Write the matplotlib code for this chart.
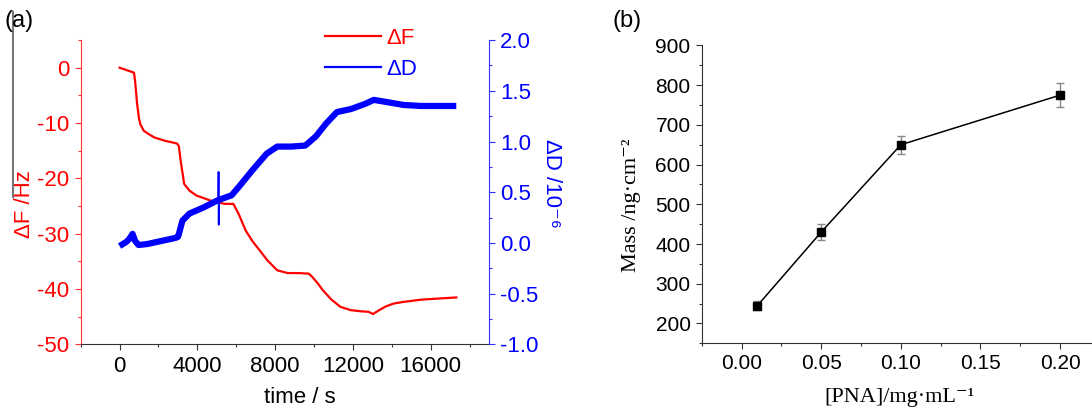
import matplotlib
matplotlib.use("Agg")
from matplotlib import pyplot as plt
from matplotlib.ticker import MultipleLocator
from matplotlib.lines import Line2D

plt.rcParams['font.family'] = ['Liberation Sans', 'DejaVu Sans']
plt.rcParams['axes.unicode_minus'] = False

# (a) QCM-D trace
t_f = [0, 740, 800, 900, 1000, 1065, 1246, 1500, 1788, 2330, 2960, 3050, 3142, 3322,
       3593, 3954, 4677, 5400, 5850, 6121, 6483, 6844, 7206, 7600, 8108, 8650, 9200,
       9733, 9913, 10200, 10455, 10900, 11358, 11900, 12400, 12802, 13037, 13300,
       13705, 14100, 14608, 15511, 16400, 17317]
df = [0, -0.9, -2.5, -6.5, -9.2, -10.2, -11.4, -12.0, -12.6, -13.2, -13.7, -14.2,
      -16.8, -21.0, -22.2, -23.1, -24.0, -24.6, -24.6, -26.4, -29.4, -31.4, -33.0,
      -34.8, -36.6, -37.1, -37.1, -37.2, -37.8, -39.0, -40.2, -41.9, -43.2, -43.8,
      -44.0, -44.1, -44.5, -43.9, -43.1, -42.6, -42.3, -41.9, -41.7, -41.5]

t_d = [0, 343, 500, 668, 800, 975, 1426, 2149, 2871, 3000, 3052, 3232, 3593, 4316,
       5038, 5760, 6121, 6844, 7566, 8108, 8830, 9552, 10094, 10636, 11177, 11900,
       12622, 13074, 13705, 14608, 15500, 16400, 17317]
dd = [-0.03, 0.01, 0.04, 0.09, 0.02, -0.02, -0.01, 0.02, 0.05, 0.06, 0.09, 0.22,
      0.29, 0.35, 0.42, 0.47, 0.55, 0.72, 0.88, 0.95, 0.95, 0.96, 1.05, 1.18, 1.29,
      1.32, 1.37, 1.41, 1.39, 1.36, 1.35, 1.35, 1.35]
spike_t = [5080, 5090, 5100, 5110]
spike_d = [0.42, 0.70, 0.18, 0.42]

# (b) adsorbed mass vs concentration
conc = [0.01, 0.05, 0.10, 0.20]
mass = [245, 430, 650, 775]
mass_err = [12, 20, 23, 30]

red = '#ff0000'
blue = '#0000ff'

fig = plt.figure(figsize=(10.92, 4.15), dpi=100)

# ---- panel (a)
ax1 = fig.add_axes([0.0739, 0.1699, 0.3739, 0.7337])
ax2 = ax1.twinx()

ax1.plot(t_f, df, color=red, lw=1.6, label='ΔF')
ax2.plot(t_d, dd, color=blue, lw=4.5, solid_capstyle='butt')
ax2.plot(spike_t, spike_d, color=blue, lw=1.3, label='ΔD')

ax1.set_xlim(-2000, 19000)
ax1.set_ylim(-50, 5)
ax2.set_ylim(-1.0, 2.0)

ax1.xaxis.set_major_locator(MultipleLocator(4000))
ax1.xaxis.set_minor_locator(MultipleLocator(2000))
ax1.yaxis.set_major_locator(MultipleLocator(10))
ax1.yaxis.set_minor_locator(MultipleLocator(5))
ax2.yaxis.set_major_locator(MultipleLocator(0.5))
ax2.yaxis.set_minor_locator(MultipleLocator(0.25))
ax2.yaxis.set_major_formatter(plt.FormatStrFormatter('%.1f'))

for a in (ax1, ax2):
    a.spines['top'].set_visible(False)
ax1.spines['right'].set_visible(False)
ax2.spines['left'].set_visible(False)
ax2.spines['bottom'].set_visible(False)
ax1.spines['left'].set_color('#ff3030')
ax2.spines['right'].set_color('#3030ff')
ax1.spines['bottom'].set_color('#333333')

ax1.tick_params(axis='x', which='both', direction='out', colors='#333333',
                labelcolor='black', labelsize=16)
ax1.tick_params(axis='y', which='both', direction='out', colors='#ff3030',
                labelcolor=red, labelsize=16)
ax2.tick_params(axis='y', which='both', direction='out', colors='#3030ff',
                labelcolor=blue, labelsize=16)
for a in (ax1, ax2):
    a.tick_params(which='major', length=4.5, width=0.8)
    a.tick_params(which='minor', length=2.5, width=0.8)

ax1.set_xlabel('time / s', fontsize=16)
ax1.xaxis.set_label_coords(0.537, -0.14)
ax1.set_ylabel('ΔF /Hz', color=red, fontsize=16)
ax1.yaxis.set_label_coords(-0.112, 0.46)
ax2.set_ylabel('ΔD /10⁻⁶', color=blue, fontsize=16, rotation=270, va='bottom')
ax2.yaxis.set_label_coords(1.128, 0.53)

handles = [Line2D([], [], color=red, lw=1.6), Line2D([], [], color=blue, lw=1.6)]
leg = ax1.legend(handles, ['ΔF', 'ΔD'], loc='upper left', frameon=False,
                 bbox_to_anchor=(325 / 1092, 1 - 28 / 415),
                 bbox_transform=fig.transFigure, fontsize=16, borderpad=0,
                 handlelength=2.5, handletextpad=0.25, labelspacing=0.45,
                 borderaxespad=0)
leg.get_texts()[0].set_color(red)
leg.get_texts()[1].set_color(blue)

fig.text(5 / 1092, 1 - 21 / 415, '(a)', fontsize=17, va='center', ha='left')
fig.add_artist(Line2D([12.7 / 1092, 12.7 / 1092], [1 - 12 / 415, 1 - 197 / 415],
                      color='#777777', lw=1.5))

# ---- panel (b)
ax3 = fig.add_axes([0.6426, 0.1728, 0.3574, 0.7176])
ax3.errorbar(conc, mass, yerr=mass_err, color='black', lw=1.1, marker='s',
             markersize=5.5, ecolor='#888888', elinewidth=1, capsize=3,
             capthick=1)
ax3.set_xlim(-0.025, 0.22)
ax3.set_ylim(150, 900)
ax3.xaxis.set_major_locator(MultipleLocator(0.05))
ax3.xaxis.set_minor_locator(MultipleLocator(0.025))
ax3.yaxis.set_major_locator(MultipleLocator(100))
ax3.yaxis.set_minor_locator(MultipleLocator(50))
ax3.xaxis.set_major_formatter(plt.FormatStrFormatter('%.2f'))
ax3.spines['top'].set_visible(False)
ax3.spines['right'].set_visible(False)
for s in ('left', 'bottom'):
    ax3.spines[s].set_color('#333333')
ax3.tick_params(which='both', direction='out', colors='#333333',
                labelcolor='black', labelsize=15)
ax3.tick_params(which='major', length=4.5, width=0.8)
ax3.tick_params(which='minor', length=2.5, width=0.8)

serif = ['Liberation Serif', 'DejaVu Serif']
ax3.set_ylabel('Mass /ng·cm⁻²', fontsize=16, family=serif)
ax3.yaxis.set_label_coords(-0.156, 0.465)
ax3.set_xlabel('[PNA]/mg·mL⁻¹', fontsize=16, family=serif)
ax3.xaxis.set_label_coords(0.508, -0.15)

fig.text(612 / 1092, 1 - 21 / 415, '(b)', fontsize=17, va='center', ha='left')

fig.savefig('out.png', dpi=100)
